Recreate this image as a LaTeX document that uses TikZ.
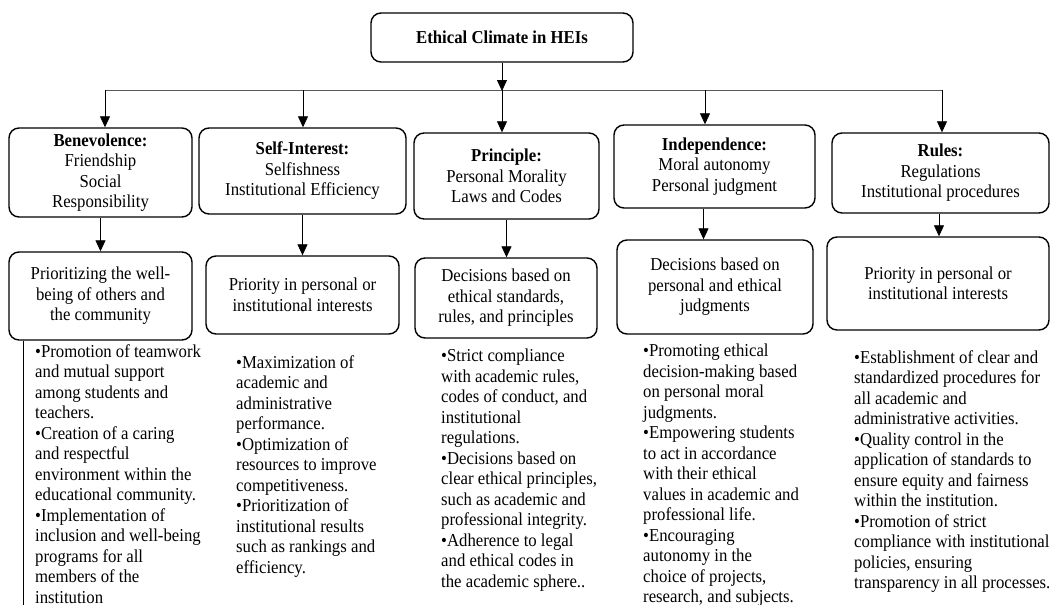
\documentclass[tikz,border=0pt]{standalone}
\usepackage{fontspec}
\setmainfont{Liberation Serif}[FakeStretch=0.92]
\usetikzlibrary{arrows.meta}
\begin{document}
\begin{tikzpicture}[x=1pt,y=1pt,
  txt/.style={font=\fontsize{18.2}{20.5}\selectfont},
  box/.style={txt, draw, line width=1.4pt, rounded corners=10pt, align=center, inner sep=0pt},
  arr/.style={line width=0.8pt, -{Triangle[width=10pt,length=11pt]}},
  bul/.style={txt, anchor=north west, align=left, inner sep=0pt}]
\useasboundingbox (0,0) rectangle (1053,-605);

% top
\node[box, minimum width=262pt, minimum height=49pt] (title) at (502,-37.5) {\textbf{Ethical Climate in HEIs}};

% level 1
\node[box, minimum width=183pt, minimum height=89pt] (ben1) at (100.5,-172.5) {\textbf{Benevolence:}\\Friendship\\Social\\Responsibility};
\node[box, minimum width=207pt, minimum height=86pt] (si1) at (302.5,-171) {\textbf{Self-Interest:}\\Selfishness\\Institutional Efficiency};
\node[box, minimum width=185pt, minimum height=86pt] (pr1) at (506.5,-176) {\textbf{Principle:}\\Personal Morality\\Laws and Codes};
\node[box, minimum width=201pt, minimum height=83pt] (in1) at (714.5,-166.5) {\textbf{Independence:}\\Moral autonomy\\Personal judgment};
\node[box, minimum width=217pt, minimum height=80pt] (ru1) at (940.5,-173) {\textbf{Rules:}\\Regulations\\Institutional procedures};

% level 2
\node[box, minimum width=183pt, minimum height=88pt] (ben2) at (100.5,-296) {Prioritizing the well-\\being of others and\\the community};
\node[box, minimum width=193pt, minimum height=78pt] (si2) at (302.5,-295) {Priority in personal or\\institutional interests};
\node[box, minimum width=182pt, minimum height=80pt] (pr2) at (506,-298) {Decisions based on\\ethical standards,\\rules, and principles};
\node[box, minimum width=196pt, minimum height=94pt] (in2) at (715,-287) {Decisions based on\\personal and ethical\\judgments};
\node[box, minimum width=222pt, minimum height=93pt] (ru2) at (938,-283.5) {Priority in personal or\\institutional interests};

% bullet lists
\node[bul] (ben3) at (35,-344) {•Promotion of teamwork\\and mutual support\\among students and\\teachers.\\•Creation of a caring\\and respectful\\environment within the\\educational community.\\•Implementation of\\inclusion and well-being\\programs for all\\members of the\\institution};
\node[bul] (si3) at (236,-355) {•Maximization of\\academic and\\administrative\\performance.\\•Optimization of\\resources to improve\\competitiveness.\\•Prioritization of\\institutional results\\such as rankings and\\efficiency.};
\node[bul] (pr3) at (441,-349) {•Strict compliance\\with academic rules,\\codes of conduct, and\\institutional\\regulations.\\•Decisions based on\\clear ethical principles,\\such as academic and\\professional integrity.\\•Adherence to legal\\and ethical codes in\\the academic sphere..};
\node[bul] (in3) at (643,-344) {•Promoting ethical\\decision-making based\\on personal moral\\judgments.\\•Empowering students\\to act in accordance\\with their ethical\\values in academic and\\professional life.\\•Encouraging\\autonomy in the\\choice of projects,\\research, and subjects.};
\node[bul] (ru3) at (854,-350) {•Establishment of clear and\\standardized procedures for\\all academic and\\administrative activities.\\•Quality control in the\\application of standards to\\ensure equity and fairness\\within the institution.\\•Promotion of strict\\compliance with institutional\\policies, ensuring\\transparency in all processes.};

% bus
\coordinate (b1) at (105,-90);
\coordinate (b2) at (303,-90);
\coordinate (b3) at (502,-90);
\coordinate (b4) at (705,-90);
\coordinate (b5) at (942,-90);
\draw[line width=1pt, black!65] (b1) -- (b5);
\draw[arr] (title.south) -- ([yshift=-1pt]title.south |- b3);
\draw[arr] (b1) -- (b1 |- ben1.north);
\draw[arr] (b2) -- (b2 |- si1.north);
\draw[arr] (b3) -- (b3 |- pr1.north);
\draw[arr] (b4) -- (b4 |- in1.north);
\draw[arr] (b5) -- (b5 |- ru1.north);

% level 1 -> level 2
\coordinate (ia) at ([xshift=-11pt]in1.south);
\coordinate (ra) at ([xshift=-1.5pt]ru1.south);
\draw[arr] (ben1.south) -- (ben2.north);
\draw[arr] (si1.south) -- (si2.north);
\draw[arr] (pr1.south) -- (pr1.south |- pr2.north);
\draw[arr] (ia) -- (ia |- in2.north);
\draw[arr] (ra) -- (ra |- ru2.north);

% side line
\coordinate (vl) at ([xshift=-77.5pt]ben2.south);
\draw[line width=0.8pt] (vl) -- ++(0,-265);
\end{tikzpicture}
\end{document}
